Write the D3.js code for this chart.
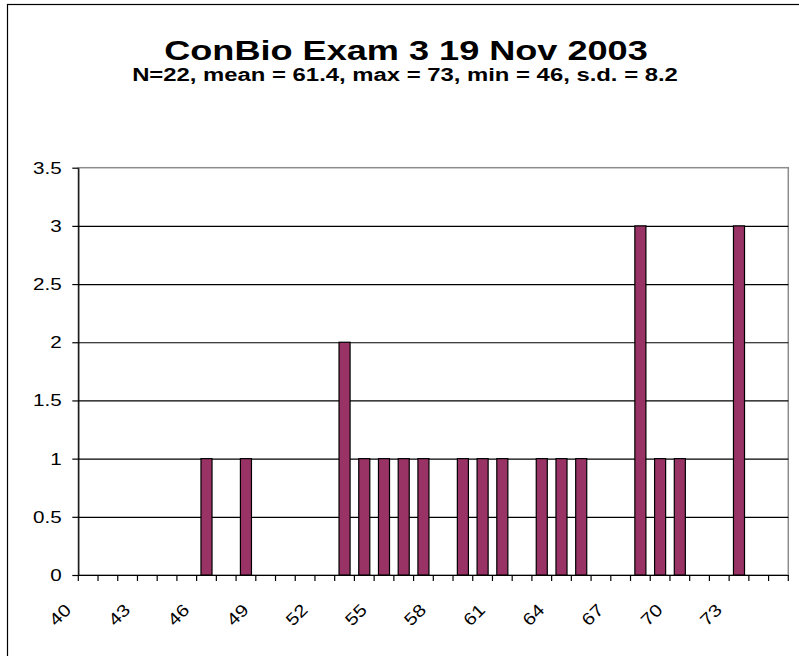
<!DOCTYPE html>
<html>
<head>
<meta charset="utf-8">
<script src="https://cdn.jsdelivr.net/npm/d3@7/dist/d3.min.js"></script>
<style>
  body { margin: 0; background: #fff; }
  svg { display: block; font-family: "Liberation Sans", Arial, sans-serif; }
</style>
</head>
<body>
<svg width="799" height="656"></svg>
<script>
const scores = ["40", "41", "42", "43", "44", "45", "46", "47", "48", "49",
  "50", "51", "52", "53", "54", "55", "56", "57", "58", "59",
  "60", "61", "62", "63", "64", "65", "66", "67", "68", "69",
  "70", "71", "72", "73", "74", "75"];
const counts = [0, 0, 0, 0, 0, 0, 1, 0, 1, 0,
  0, 0, 0, 2, 1, 1, 1, 1, 0, 1,
  1, 1, 0, 1, 1, 1, 0, 0, 3, 1,
  1, 0, 0, 3, 0, 0];
const yTicks = [0, 0.5, 1, 1.5, 2, 2.5, 3, 3.5];
const xLabels = ["40", "43", "46", "49", "52", "55", "58", "61", "64", "67", "70", "73"];

const title = "ConBio Exam 3 19 Nov 2003";
const subtitle = "N=22, mean = 61.4, max = 73, min = 46, s.d. = 8.2";

// the source picture is stretched sideways, so text gets the same stretch
const sx = 1.29;

const plotLeft = 78.3;
const plotTop = 167.7;
const w = 710;
const h = 407.3;

const svg = d3.select("svg");

// outer chart frame (runs off the right and bottom of the picture)
svg.append("rect")
  .attr("x", 7.5)
  .attr("y", 4.5)
  .attr("width", 820)
  .attr("height", 700)
  .attr("fill", "#fff")
  .attr("stroke", "#000")
  .attr("stroke-width", 1.2);

svg.append("text")
  .attr("transform", `translate(406, 59.5) scale(${sx}, 1)`)
  .attr("text-anchor", "middle")
  .attr("font-size", 28)
  .attr("font-weight", "bold")
  .text(title);

svg.append("text")
  .attr("transform", `translate(405, 80.5) scale(${sx}, 1)`)
  .attr("text-anchor", "middle")
  .attr("font-size", 18.5)
  .attr("font-weight", "bold")
  .text(subtitle);

const chart = svg.append("g").attr("transform", `translate(${plotLeft}, ${plotTop})`);

const x = d3.scaleBand()
  .domain(scores)
  .range([0, w])
  .paddingInner(0.44)
  .paddingOuter(0.22);

const y = d3.scaleLinear()
  .domain([0, 3.5])
  .range([h, 0]);

// plot area border, grey
chart.append("rect")
  .attr("width", w)
  .attr("height", h)
  .attr("fill", "none")
  .attr("stroke", "#8c8c8c")
  .attr("stroke-width", 1.5);

// gridlines
chart.append("g")
  .attr("class", "grid")
  .call(d3.axisLeft(y).tickValues(yTicks.slice(1, -1)).tickSize(-w).tickFormat(""))
  .call(g => g.select(".domain").remove())
  .selectAll("line")
  .attr("stroke", "#000")
  .attr("stroke-width", 1.2);

chart.selectAll(".bar")
  .data(scores)
  .enter()
  .append("rect")
  .attr("class", "bar")
  .attr("x", d => x(d))
  .attr("y", (d, i) => y(counts[i]))
  .attr("width", x.bandwidth())
  .attr("height", (d, i) => h - y(counts[i]))
  .attr("fill", "#993366")
  .attr("stroke", "#000")
  .attr("stroke-width", 1.2);

// y axis
const yAxis = chart.append("g")
  .call(d3.axisLeft(y).tickValues(yTicks).tickSize(6).tickSizeOuter(0).tickFormat(d => d));
yAxis.selectAll("line").attr("stroke", "#000").attr("stroke-width", 1.2);
yAxis.select(".domain").attr("stroke", "#000").attr("stroke-width", 1.2);
yAxis.selectAll("text")
  .attr("x", null)
  .attr("dy", null)
  .attr("transform", `translate(-16.5, 5.5) scale(${sx}, 1)`)
  .attr("font-size", 16)
  .attr("font-family", "Liberation Sans, Arial, sans-serif")
  .attr("fill", "#000");

// x axis: tick marks on the bin edges
const half = x.step() * x.paddingInner() / 2;
chart.append("g")
  .attr("transform", `translate(0, ${h})`)
  .selectAll("line")
  .data(scores.concat("end"))
  .enter()
  .append("line")
  .attr("x1", (d, i) => i < scores.length ? x(d) - half : w)
  .attr("x2", (d, i) => i < scores.length ? x(d) - half : w)
  .attr("y1", 0)
  .attr("y2", 6)
  .attr("stroke", "#000")
  .attr("stroke-width", 1.2);

const xAxis = chart.append("g")
  .attr("transform", `translate(0, ${h})`)
  .call(d3.axisBottom(x).tickValues(xLabels).tickSize(0).tickSizeOuter(0));
xAxis.select(".domain").attr("stroke", "#000").attr("stroke-width", 1.2);
xAxis.selectAll("text")
  .attr("y", null)
  .attr("dy", null)
  .attr("text-anchor", "end")
  .attr("transform", `translate(-16, 36) rotate(-45) scale(1.2, 1)`)
  .attr("font-size", 17)
  .attr("font-family", "Liberation Sans, Arial, sans-serif")
  .attr("fill", "#000");
</script>
</body>
</html>
